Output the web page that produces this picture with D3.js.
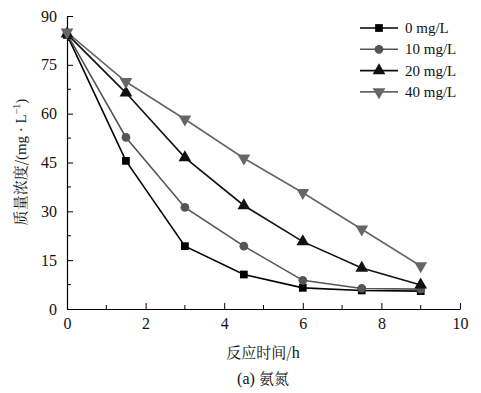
<!DOCTYPE html>
<html><head><meta charset="utf-8">
<script src="https://cdn.jsdelivr.net/npm/d3@7"></script>
<style>body{margin:0;background:#fff}svg{display:block}
.serif{font-family:"Liberation Serif","DejaVu Serif","Times New Roman",serif}
.cjk{font-family:"Noto Serif CJK SC","Noto Sans CJK SC",sans-serif}
</style>
</head><body>
<script>
const times = [0, 1.5, 3, 4.5, 6, 7.5, 9];
const seriesNames = ["0 mg/L", "10 mg/L", "20 mg/L", "40 mg/L"];
const s0 = [84.2, 45.5, 19.3, 10.6, 6.5, 5.7, 5.5];
const s10 = [84.5, 52.7, 31.2, 19.3, 8.8, 6.3, 6.1];
const s20 = [84.5, 66.4, 46.5, 31.8, 20.7, 12.6, 7.4];
const s40 = [85.0, 69.8, 58.3, 46.3, 35.7, 24.5, 13.2];
const xTicks = [0, 2, 4, 6, 8, 10];
const yTicks = [0, 15, 30, 45, 60, 75, 90];
const xLabel = "反应时间/h";
const caption = "(a) 氨氮";

const W = 481, H = 393;
const SERIF = '"Liberation Serif","DejaVu Serif","Times New Roman",serif';
const svg = d3.select("body").append("svg").attr("width", W).attr("height", H);
const x = d3.scaleLinear().domain([0, 10]).range([67, 460]);
const y = d3.scaleLinear().domain([0, 90]).range([309, 16]);

// axes
const xAxis = svg.append("g").attr("transform", `translate(0,${y(0)})`)
  .call(d3.axisBottom(x).tickValues(xTicks).tickSizeInner(-6).tickSizeOuter(0).tickPadding(9).tickFormat(d3.format("d")));
xAxis.append("g").selectAll("line").data(d3.range(1, 10, 2)).join("line")
  .attr("x1", d => x(d)).attr("x2", d => x(d)).attr("y1", 0).attr("y2", -4).attr("stroke", "#000");
const yAxis = svg.append("g").attr("transform", `translate(${x(0)},0)`)
  .call(d3.axisLeft(y).tickValues(yTicks).tickSizeInner(-6).tickSizeOuter(0).tickPadding(10).tickFormat(d3.format("d")));
yAxis.append("g").selectAll("line").data(d3.range(7.5, 90, 15)).join("line")
  .attr("y1", d => y(d)).attr("y2", d => y(d)).attr("x1", 0).attr("x2", 4).attr("stroke", "#000");
[xAxis, yAxis].forEach(g => {
  g.attr("font-family", SERIF).attr("font-size", 16);
  g.select(".domain").attr("stroke", "#000").attr("stroke-width", 1.2);
  g.selectAll(".tick text").style("font-family", SERIF).style("font-size", "16px").attr("fill", "#111");
});

const seriesData = [
  {name: seriesNames[0], vals: s0, color: "#000", sym: d3.symbolSquare, size: 60, rot: 0},
  {name: seriesNames[1], vals: s10, color: "#555", sym: d3.symbolCircle, size: 60, rot: 0},
  {name: seriesNames[2], vals: s20, color: "#111", sym: d3.symbolTriangle, size: 70, rot: 0},
  {name: seriesNames[3], vals: s40, color: "#666", sym: d3.symbolTriangle, size: 70, rot: 180},
];
const line = d3.line().x(d => x(d[0])).y(d => y(d[1]));
seriesData.forEach(s => {
  const pts = times.map((t, i) => [t, s.vals[i]]);
  svg.append("path").attr("d", line(pts)).attr("fill", "none").attr("stroke", s.color).attr("stroke-width", 1.6);
});
seriesData.forEach(s => {
  const pts = times.map((t, i) => [t, s.vals[i]]);
  svg.append("g").selectAll("path").data(pts).join("path")
    .attr("d", d3.symbol().type(s.sym).size(s.size))
    .attr("transform", d => `translate(${x(d[0])},${y(d[1])}) rotate(${s.rot})`)
    .attr("fill", s.color);
});

// legend
const lg = svg.append("g");
seriesData.forEach((s, i) => {
  const yy = 28 + i * 21.3;
  lg.append("line").attr("x1", 360).attr("x2", 398).attr("y1", yy).attr("y2", yy).attr("stroke", s.color).attr("stroke-width", 1.6);
  lg.append("path").attr("d", d3.symbol().type(s.sym).size(s.size))
    .attr("transform", `translate(379,${yy}) rotate(${s.rot})`).attr("fill", s.color);
  lg.append("text").attr("x", 405).attr("y", yy + 5).text(s.name)
    .attr("class", "serif").style("font-size", "15px").attr("fill", "#111");
});

// y title
const yt = svg.append("text").attr("transform", `translate(26,${162}) rotate(-90)`)
  .attr("text-anchor", "middle").style("font-size", "15px").attr("fill", "#111");
yt.append("tspan").attr("class", "cjk").text("质量浓度/");
yt.append("tspan").attr("class", "serif").text("(mg · L");
yt.append("tspan").attr("class", "serif").style("font-size", "10px").attr("dy", -6).text("−1");
yt.append("tspan").attr("class", "serif").attr("dy", 6).text(")");

// x title & caption
const xt = svg.append("text").attr("x", 263).attr("y", 358).attr("text-anchor", "middle")
  .style("font-size", "15px").attr("fill", "#111");
xt.append("tspan").attr("class", "cjk").text("反应时间/");
xt.append("tspan").attr("class", "serif").style("font-size", "16px").text("h");
const ct = svg.append("text").attr("x", 263).attr("y", 384).attr("text-anchor", "middle")
  .style("font-size", "15px").attr("fill", "#111");
ct.append("tspan").attr("class", "serif").style("font-size", "16px").text("(a) ");
ct.append("tspan").attr("class", "cjk").text("氨氮");
</script>
</body></html>
